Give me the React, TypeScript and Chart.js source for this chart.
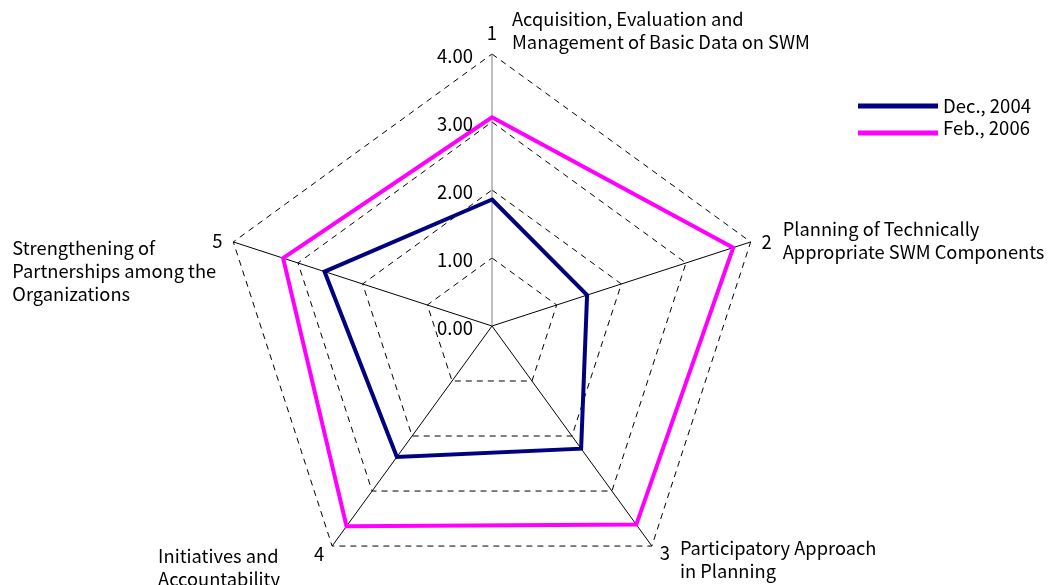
import React, { useEffect, useRef } from "react";
import { Chart, registerables } from "chart.js";

Chart.register(...registerables);

const axisNumbers = ["1", "2", "3", "4", "5"];
const axisDescriptions = [
  ["Acquisition, Evaluation and", "Management of Basic Data on SWM"],
  ["Planning of Technically", "Appropriate SWM Components"],
  ["Participatory Approach", "in Planning"],
  ["Initiatives and", "Accountability"],
  ["Strengthening of", "Partnerships among the", "Organizations"],
];
const tickValues = [0, 1, 2, 3, 4];
const tickLabels = ["0.00", "1.00", "2.00", "3.00", "4.00"];
const seriesNames = ["Dec., 2004", "Feb., 2006"];
const dec2004 = [1.86, 1.47, 2.23, 2.38, 2.59];
const feb2006 = [3.07, 3.73, 3.61, 3.64, 3.23];
const seriesColors = ["#000080", "#FF00FF"];

const FONT = '"Noto Sans CJK JP", "Noto Sans", sans-serif';

// label placement relative to each axis' outer vertex
const numberOffsets = [
  [0, -21],
  [16, 0],
  [13, 7],
  [-13, 8],
  [-16, -1],
];
const descOffsets = [
  [20, -35],
  [32, -13],
  [28, 2],
  [-174, 10],
  [-221, 6],
];

const overlayPlugin = {
  id: "overlay",
  afterDraw(chart: any) {
    const ctx = chart.ctx;
    const r = chart.scales.r;
    ctx.save();
    ctx.fillStyle = "#000";
    // tick labels
    ctx.font = `18.5px ${FONT}`;
    ctx.textAlign = "right";
    ctx.textBaseline = "middle";
    tickValues.forEach((v, i) => {
      const p = r.getPointPositionForValue(0, v);
      ctx.fillText(tickLabels[i], p.x - 19, p.y + 2);
    });
    // axis numbers
    ctx.textAlign = "center";
    axisNumbers.forEach((n, i) => {
      const p = r.getPointPositionForValue(i, 4);
      ctx.fillText(n, p.x + numberOffsets[i][0], p.y + numberOffsets[i][1]);
    });
    // descriptions
    ctx.font = `18.3px ${FONT}`;
    ctx.textAlign = "left";
    axisDescriptions.forEach((lines, i) => {
      const p = r.getPointPositionForValue(i, 4);
      lines.forEach((ln, j) => {
        ctx.fillText(ln, p.x + descOffsets[i][0], p.y + descOffsets[i][1] + j * 23);
      });
    });
    // legend
    const lx = 858;
    const ly = [106, 133];
    const ty = [106, 128];
    seriesNames.forEach((name, i) => {
      ctx.strokeStyle = seriesColors[i];
      ctx.lineWidth = 5;
      ctx.beginPath();
      ctx.moveTo(lx, ly[i]);
      ctx.lineTo(lx + 80, ly[i]);
      ctx.stroke();
      ctx.fillStyle = "#000";
      ctx.font = `18.5px ${FONT}`;
      ctx.fillText(name, lx + 85, ty[i]);
    });
    ctx.restore();
  },
};

export default function App() {
  const ref = useRef<HTMLCanvasElement>(null);
  useEffect(() => {
    const chart = new Chart(ref.current!, {
      type: "radar",
      data: {
        labels: axisNumbers,
        datasets: [
          {
            label: seriesNames[0],
            data: dec2004,
            borderColor: seriesColors[0],
            backgroundColor: "transparent",
            borderWidth: 4,
            pointRadius: 0,
            fill: false,
          },
          {
            label: seriesNames[1],
            data: feb2006,
            borderColor: seriesColors[1],
            backgroundColor: "transparent",
            borderWidth: 4,
            pointRadius: 0,
            fill: false,
          },
        ],
      },
      options: {
        responsive: false,
        animation: false,
        layout: { padding: { top: 54, bottom: 62, left: 220, right: 284 } },
        plugins: { legend: { display: false }, tooltip: { enabled: false } },
        elements: { line: { tension: 0, borderJoinStyle: "miter" } },
        scales: {
          r: {
            min: 0,
            max: 4,
            ticks: { stepSize: 1, display: false },
            pointLabels: { display: false },
            grid: { color: "#000", lineWidth: 1 },
            border: { dash: [6, 5] },
            angleLines: {
              color: (c: any) => (c.index === 0 ? "#808080" : "#000"),
              lineWidth: 1,
            },
          },
        },
      },
      plugins: [overlayPlugin],
    });
    return () => chart.destroy();
  }, []);
  return (
    <div style={{ position: "fixed", left: 0, top: 0, width: 1048, height: 585, overflow: "hidden", background: "#fff" }}>
      <canvas ref={ref} width={1048} height={660} />
    </div>
  );
}
